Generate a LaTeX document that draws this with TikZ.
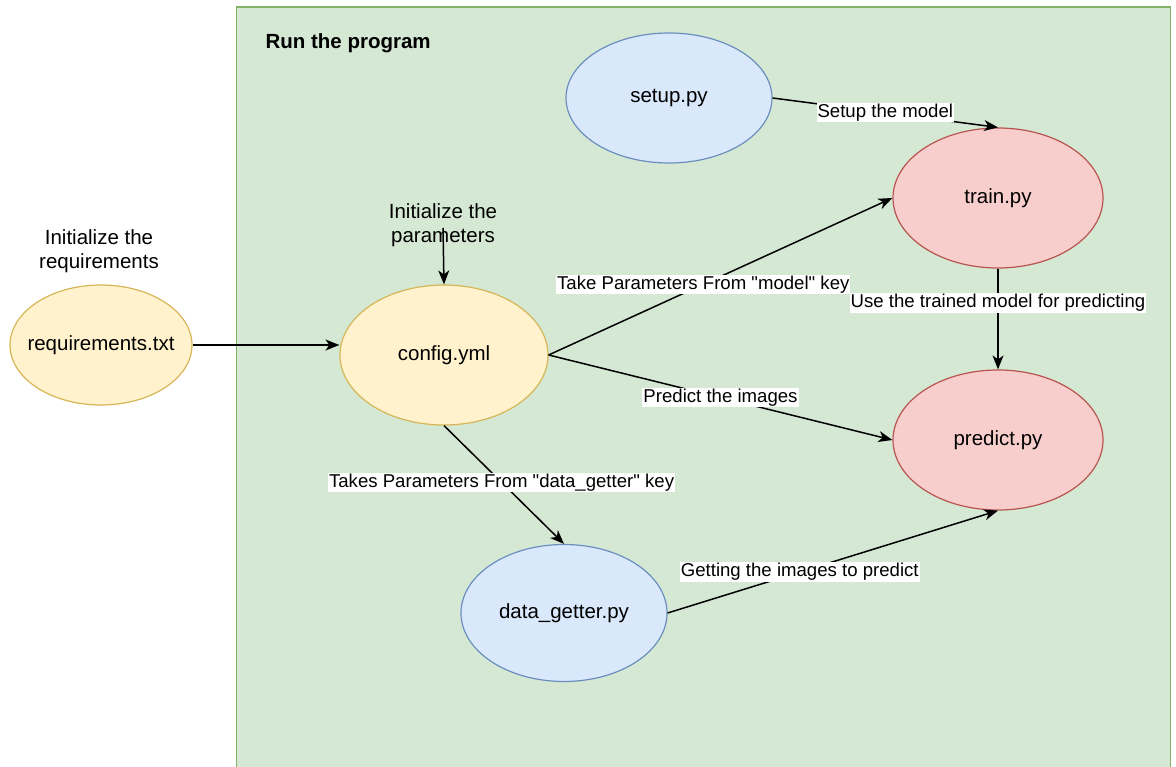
\documentclass[tikz,border=0pt]{standalone}
\usepackage{fontspec}
\setmainfont{Liberation Sans}
\usetikzlibrary{shapes.geometric,arrows.meta}

\definecolor{boxgreen}{HTML}{D5E8D4}
\definecolor{boxgreenline}{HTML}{82B366}
\definecolor{yellowfill}{HTML}{FFF2CC}
\definecolor{yellowline}{HTML}{D6B656}
\definecolor{bluefill}{HTML}{DAE8FC}
\definecolor{blueline}{HTML}{6C8EBF}
\definecolor{redfill}{HTML}{F8CECC}
\definecolor{redline}{HTML}{B85450}

\begin{document}
\begin{tikzpicture}[
    x=1pt, y=-1pt,
    every node/.style={font=\fontsize{20.5}{24.5}\selectfont},
    oval/.style={ellipse, draw, line width=1.2pt, inner xsep=-14pt, inner ysep=0pt},
    yellowoval/.style={oval, fill=yellowfill, draw=yellowline},
    blueoval/.style={oval, fill=bluefill, draw=blueline},
    redoval/.style={oval, fill=redfill, draw=redline},
    arr/.style={-{Stealth[length=14pt,width=11pt,inset=4pt]}, line width=1.5pt},
    lbl/.style={fill=white, inner sep=1pt, font=\fontsize{18.6}{22}\selectfont}
]

\useasboundingbox (0,0) rectangle (1176,767);

% =========================================================
% Container
% =========================================================

\draw[fill=boxgreen, draw=boxgreenline, line width=1.5pt] (236.5,7) rectangle (1170.5,790);
\node[anchor=west, font=\fontsize{20.5}{24.5}\selectfont\bfseries] (title) at (262,43) {Run the program};

% =========================================================
% Files
% =========================================================

\node[yellowoval, minimum width=182pt, minimum height=120pt] (req) at (101,345) {requirements.txt};
\node[yellowoval, minimum width=208pt, minimum height=140pt] (config) at (444,355) {config.yml};
\node[blueoval, minimum width=206pt, minimum height=130pt] (setup) at (669,98) {setup.py};
\node[redoval, minimum width=210pt, minimum height=140pt] (train) at (998,198) {train.py};
\node[redoval, minimum width=210pt, minimum height=140pt] (predict) at (998,440) {predict.py};
\node[blueoval, minimum width=206pt, minimum height=137pt] (getter) at (564,613) {data\_getter.py};

% =========================================================
% Free texts
% =========================================================

\node[align=center] (reqtext) at (99,251) {Initialize the\\requirements};
\node[align=center] (paramtext) at (443,225) {Initialize the\\parameters};

% =========================================================
% Connectors
% =========================================================

\draw[arr] (req.east) -- (config.west |- req.east);
\draw[arr] (paramtext.center) ++(0,3) -- (config.north);

\draw[arr] (setup.east) -- (train.north)
    node[lbl, pos=0.5] {Setup the model};
\draw[arr] (config.east) -- (train.west)
    node[lbl, pos=0.45] {Take Parameters From \textquotedbl model\textquotedbl\ key};
\draw[arr] (config.east) -- (predict.west)
    node[lbl, pos=0.5] {Predict the images};
\draw[arr] (train.south) -- (predict.north)
    node[lbl, pos=0.34] {Use the trained model for predicting};
\draw[arr] (config.south) -- (getter.north)
    node[lbl, pos=0.48] {Takes Parameters From \textquotedbl data\_getter\textquotedbl\ key};
\draw[arr] (getter.east) -- (predict.south)
    node[lbl, pos=0.4] {Getting the images to predict};

\end{tikzpicture}
\end{document}
